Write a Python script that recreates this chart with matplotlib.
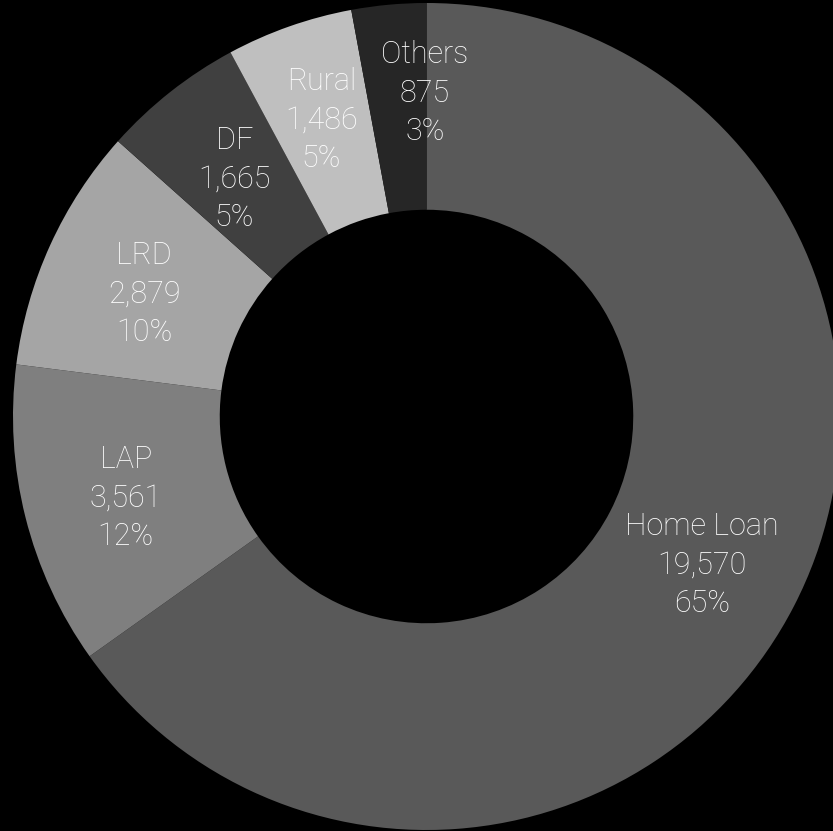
import numpy as np
import matplotlib
matplotlib.use("Agg")
import matplotlib.pyplot as plt

# loan book mix, clockwise from 12 o'clock
categories = ["Home Loan", "LAP", "LRD", "DF", "Rural", "Others"]
amounts = [19570, 3561, 2879, 1665, 1486, 875]
pct_labels = ["65%", "12%", "10%", "5%", "5%", "3%"]
colors = ["#595959", "#7f7f7f", "#a5a5a5", "#404040", "#bfbfbf", "#262626"]

W, H = 833, 831
cx, cy, R = 426.5, 416.5, 413.5  # pixel centre and outer radius

fig = plt.figure(figsize=(W / 100, H / 100), dpi=100, facecolor="black")
ax = fig.add_axes([0, 0, 1, 1])
ax.set_facecolor("black")
ax.axis("off")

wedges, _ = ax.pie(amounts, colors=colors, startangle=90, counterclock=False,
                   radius=1.0, wedgeprops=dict(width=0.5, edgecolor="none"))

ax.set_xlim(-cx / R, (W - cx) / R)
ax.set_ylim(-(H - cy) / R, cy / R)
ax.set_aspect("auto")

# small nudges so the labels sit inside their slices
nudge = {"Others": (0.065, 0.05), "Rural": (-0.005, 0.025)}

for w, name, val, pct in zip(wedges, categories, amounts, pct_labels):
    mid = np.deg2rad((w.theta1 + w.theta2) / 2)
    x = 0.75 * np.cos(mid)
    y = 0.75 * np.sin(mid)
    dx, dy = nudge.get(name, (0, 0))
    ax.text(x + dx, y + dy - 0.015, f"{name}\n{val:,}\n{pct}", ha="center", va="center",
            color="white", fontsize=22, family="Roboto", fontweight="light",
            linespacing=1.42)

fig.savefig("out.png", dpi=100, facecolor="black")
